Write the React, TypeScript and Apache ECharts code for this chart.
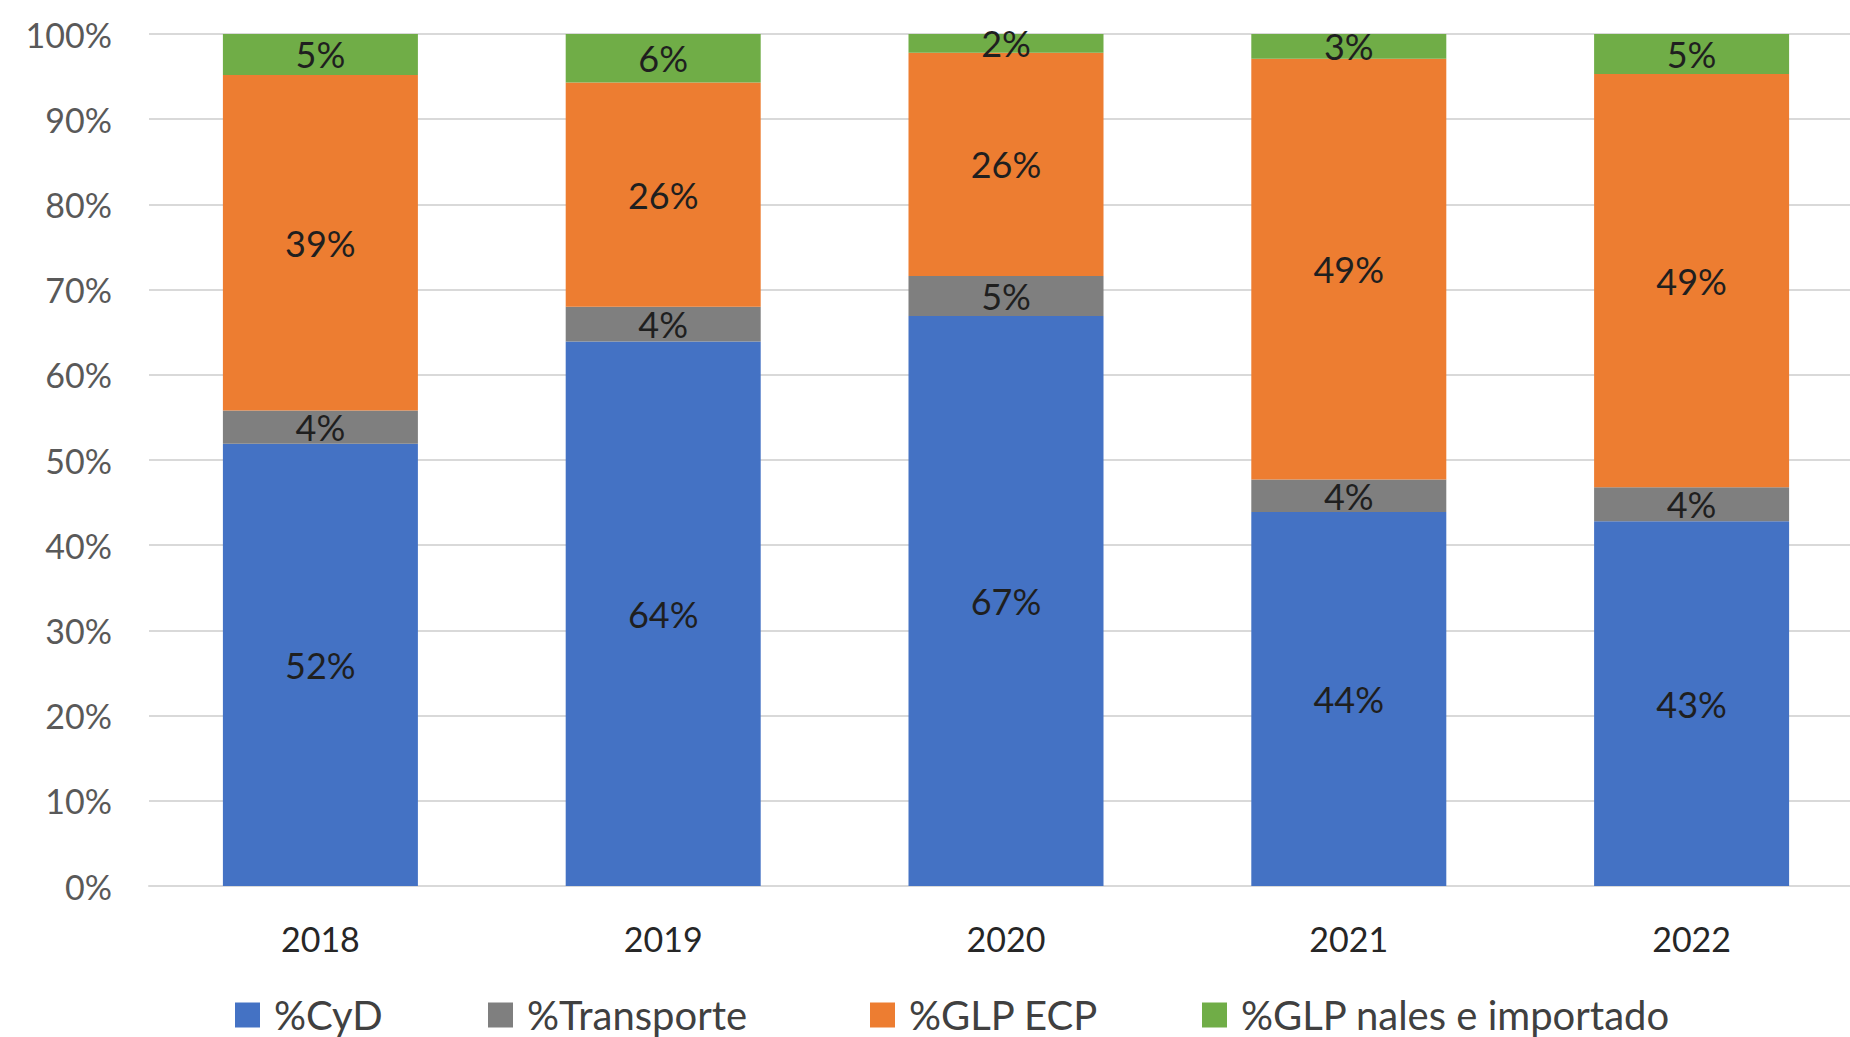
import React, { useEffect, useRef } from "react";
import * as echarts from "echarts";

const categories = ["2018", "2019", "2020", "2021", "2022"];
const cyd = [51.9, 63.9, 66.9, 43.9, 42.8];
const transporte = [3.9, 4.1, 4.7, 3.8, 4.0];
const glpEcp = [39.4, 26.3, 26.2, 49.4, 48.5];
const glpNales = [4.8, 5.7, 2.2, 2.9, 4.7];
const seriesNames = ["%CyD", "%Transporte", "%GLP ECP", "%GLP nales e importado"];
const colors = ["#4472C4", "#7F7F7F", "#ED7D31", "#70AD47"];
const legendLefts = [235, 488, 870, 1202];

const FONT = "Lato, 'Open Sans', sans-serif";

export default function App() {
  const ref = useRef<HTMLDivElement>(null);
  useEffect(() => {
    document.body.style.margin = "0";
    document.body.style.overflow = "hidden";
    const chart = echarts.init(ref.current!, null, { renderer: "svg" });
    const dataSets = [cyd, transporte, glpEcp, glpNales];
    chart.setOption({
      animation: false,
      backgroundColor: "#ffffff",
      grid: { left: 149, top: 34, height: 852, width: 1714, containLabel: false },
      legend: seriesNames.map((n, i) => ({
        data: [n],
        left: legendLefts[i],
        top: 995,
        padding: 0,
        orient: "horizontal",
        icon: "rect",
        itemWidth: 25,
        itemHeight: 25,
        selectedMode: false,
        textStyle: { fontFamily: FONT, fontSize: 40, color: "#404040", padding: [0, 0, 0, 9] },
      })),
      xAxis: {
        type: "category",
        data: categories,
        axisLine: { lineStyle: { color: "#D9D9D9", width: 2 } },
        axisTick: { show: false },
        axisLabel: { fontFamily: FONT, fontSize: 34, color: "#262626", margin: 35 },
      },
      yAxis: {
        type: "value",
        min: 0,
        max: 100,
        interval: 10,
        axisLabel: { formatter: "{value}%", fontFamily: FONT, fontSize: 34, color: "#595959", margin: 37 },
        splitLine: { lineStyle: { color: "#D9D9D9", width: 2 } },
        axisLine: { show: false },
        axisTick: { show: false },
      },
      series: dataSets.map((d, i) => ({
        name: seriesNames[i],
        type: "bar",
        stack: "total",
        barWidth: 195,
        data: d,
        itemStyle: { color: colors[i] },
        label: {
          show: true,
          position: "inside",
          formatter: (p: any) => Math.round(p.value) + "%",
          fontFamily: FONT,
          fontSize: 36,
          color: "#1f1f1f",
        },
      })),
    });
    return () => chart.dispose();
  }, []);
  return (
    <div style={{ width: 1850, height: 1037, overflow: "hidden", position: "relative" }}>
      <div ref={ref} style={{ width: 1880, height: 1037 }} />
    </div>
  );
}
